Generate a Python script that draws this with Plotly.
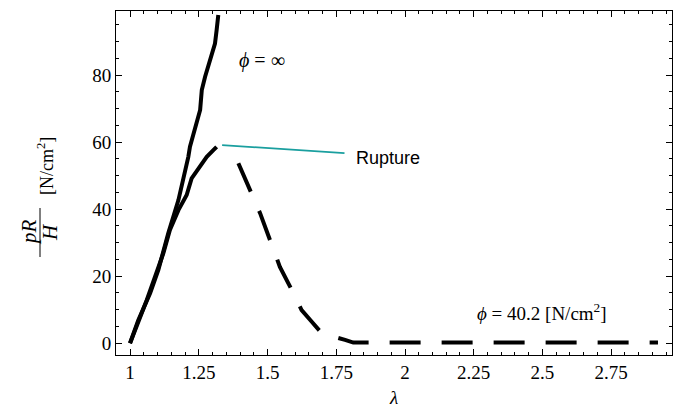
import plotly.graph_objects as go

# phi = infinity curve
inf_x = [1.0, 1.030, 1.073, 1.103, 1.139, 1.176, 1.212, 1.218, 1.255, 1.261, 1.273, 1.291, 1.309, 1.315, 1.321]
inf_y = [0.0, 6.9, 14.9, 21.9, 32.8, 42.7, 55.6, 58.6, 69.6, 75.5, 79.5, 84.0, 89.4, 93.4, 97.9]

# phi = 40.2 curve (loading part, solid)
fin_x = [1.0, 1.061, 1.121, 1.145, 1.176, 1.206, 1.224, 1.255, 1.279, 1.303, 1.315]
fin_y = [0.0, 12.9, 26.8, 33.8, 39.7, 44.2, 49.2, 52.7, 55.6, 57.6, 58.6]

# phi = 40.2 curve (post rupture, dashed)
post_x = [1.394, 1.436, 1.473, 1.509, 1.545, 1.582, 1.624, 1.661, 1.697, 1.782, 1.812, 2.0, 2.5, 2.92]
post_y = [53.7, 45.7, 38.8, 30.8, 22.8, 16.9, 9.9, 6.4, 3.0, 1.0, 0.2, 0.2, 0.2, 0.2]

# rupture pointer line
rup_x = [1.335, 1.78]
rup_y = [59.1, 56.7]

x_ticks = [1, 1.25, 1.5, 1.75, 2, 2.25, 2.5, 2.75]
x_labels = ["1", "1.25", "1.5", "1.75", "2", "2.25", "2.5", "2.75"]
y_ticks = [0, 20, 40, 60, 80]

SERIF = "Liberation Serif"

fig = go.Figure()
fig.add_trace(go.Scatter(x=inf_x, y=inf_y, mode="lines",
                         line=dict(color="black", width=4), showlegend=False))
fig.add_trace(go.Scatter(x=fin_x, y=fin_y, mode="lines",
                         line=dict(color="black", width=4), showlegend=False))
fig.add_trace(go.Scatter(x=post_x, y=post_y, mode="lines",
                         line=dict(color="black", width=4, dash="31px,21px"), showlegend=False))
fig.add_trace(go.Scatter(x=rup_x, y=rup_y, mode="lines",
                         line=dict(color="#1a9f9f", width=1.8), showlegend=False))

axis_common = dict(showline=True, linecolor="black", linewidth=1, mirror="allticks",
                   ticks="inside", ticklen=6, tickwidth=1, tickcolor="black",
                   showgrid=False, zeroline=False, automargin=False,
                   tickfont=dict(family=SERIF, size=19, color="black"))

fig.update_xaxes(range=[0.949, 2.971], tickvals=x_ticks, ticktext=x_labels,
                 minor=dict(dtick=0.05, tick0=1, ticks="inside", ticklen=3, tickwidth=1, tickcolor="black"),
                 title=dict(text="<i>λ</i>", font=dict(family=SERIF, size=19, color="black"), standoff=8),
                 **axis_common)
fig.update_yaxes(range=[-3.5, 99.1], tickvals=y_ticks,
                 minor=dict(dtick=5, tick0=0, ticks="inside", ticklen=3, tickwidth=1, tickcolor="black"),
                 **axis_common)

L, R, T, B = 116, 8, 11, 55
W, H = 680, 410
pw, ph = W - L - R, H - T - B


def px(xp):
    return (xp - L) / pw


def py(yp):
    return (H - B - yp) / ph


ann_font = dict(family=SERIF, size=20, color="black")
annotations = [
    dict(x=px(29), y=py(232), xref="paper", yref="paper", text="<i>pR</i>", textangle=-90,
         showarrow=False, xanchor="center", yanchor="middle", font=dict(family=SERIF, size=21, color="black")),
    dict(x=px(50), y=py(232), xref="paper", yref="paper", text="<i>H</i>", textangle=-90,
         showarrow=False, xanchor="center", yanchor="middle", font=dict(family=SERIF, size=21, color="black")),
    dict(x=px(45), y=py(166), xref="paper", yref="paper", text="[N/cm<sup>2</sup>]", textangle=-90,
         showarrow=False, xanchor="center", yanchor="middle", font=dict(family=SERIF, size=18, color="black")),
    dict(x=px(262), y=py(60), xref="paper", yref="paper", text="<i>ϕ</i> = ∞",
         showarrow=False, xanchor="center", yanchor="middle", font=ann_font),
    dict(x=px(542), y=py(312), xref="paper", yref="paper", text="<i>ϕ</i> = 40.2 [N/cm<sup>2</sup>]",
         showarrow=False, xanchor="center", yanchor="middle", font=dict(family=SERIF, size=19, color="black")),
    dict(x=px(354), y=py(158), xref="paper", yref="paper", text="Rupture",
         showarrow=False, xanchor="left", yanchor="middle",
         font=dict(family="Liberation Sans", size=18, color="black")),
]

shapes = [dict(type="line", xref="paper", yref="paper", x0=px(40), x1=px(40), y0=py(208), y1=py(257),
               line=dict(color="black", width=1))]

fig.update_layout(width=W, height=H, margin=dict(l=L, r=R, t=T, b=B),
                  paper_bgcolor="white", plot_bgcolor="white",
                  annotations=annotations, shapes=shapes)

fig.write_html("out.html")
